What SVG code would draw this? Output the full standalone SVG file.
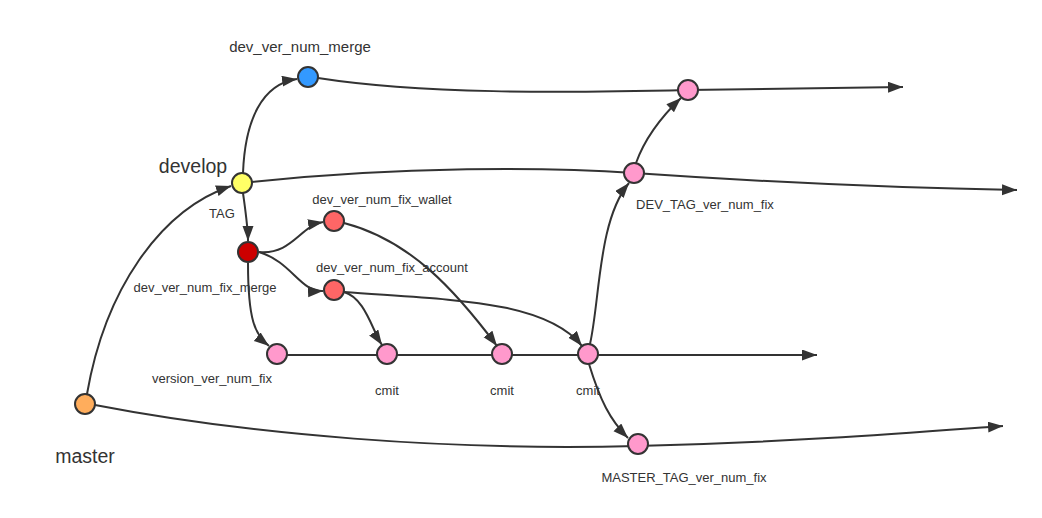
<svg xmlns="http://www.w3.org/2000/svg" width="1042" height="518" viewBox="0 0 1042 518">
<style>
.c{fill:none;stroke:#333;stroke-width:2;}
.a{marker-end:url(#arr);}
.n{stroke:#333;stroke-width:2;}
text{font-family:"Liberation Sans",Arial,sans-serif;fill:#333;font-size:13px;text-anchor:middle;}
.big{font-size:19.5px;}
.mid{font-size:15px;}
</style>
<defs>
<marker id="arr" markerUnits="userSpaceOnUse" markerWidth="16" markerHeight="12" refX="15" refY="5.5" orient="auto">
<path d="M0,0 L15,5.5 L0,11 z" fill="#333"/>
</marker>
</defs>
<rect width="1042" height="518" fill="#fff"/>
<g id="connectors">
<path class="c a" d="M318,78 C 420,94 560,93 688,90 L 903,87"/>
<path class="c a" d="M252,182 C 400,166 550,167 634,173 C 750,181 900,188 1017,190"/>
<path class="c a" d="M287,355 L 817,355"/>
<path class="c a" d="M95,405 C 250,435 450,451 637,446 C 800,442 920,432 1003,426"/>
<path class="c a" d="M87,394 C 105,290 160,210 231,186"/>
<path class="c a" d="M243,173 C 245,120 262,84 297,79"/>
<path class="c a" d="M243,193 C 246,215 248,228 248,241"/>
<path class="c a" d="M259,252 C 292,255 300,226 323,222"/>
<path class="c a" d="M259,252 C 292,262 300,292 323,291"/>
<path class="c a" d="M248,263 C 248,320 255,335 269,346"/>
<path class="c a" d="M344,292 C 365,298 372,330 382,345"/>
<path class="c a" d="M344,223 C 410,240 455,290 497,346"/>
<path class="c a" d="M344,292 C 450,300 545,300 582,346"/>
<path class="c a" d="M590,344 C 600,300 598,220 629,183"/>
<path class="c a" d="M636,163 C 645,138 660,118 681,98"/>
<path class="c a" d="M589,364 C 600,400 610,420 628,438"/>
</g>
<g id="master"><circle class="n" cx="85" cy="404" r="10" fill="#FFAD5C"/><text class="big" x="85" y="463">master</text></g>
<g id="develop"><circle class="n" cx="242" cy="183" r="10" fill="#FFFF66"/><text class="big" x="193" y="173">develop</text><text x="222" y="218">TAG</text></g>
<g id="dev_ver_num_merge"><circle class="n" cx="308" cy="77" r="10" fill="#3399FF"/><text class="mid" x="300" y="52">dev_ver_num_merge</text></g>
<g id="dev_ver_num_fix_merge"><circle class="n" cx="248" cy="252" r="10" fill="#CC0000"/><text x="205" y="292">dev_ver_num_fix_merge</text></g>
<g id="dev_ver_num_fix_wallet"><circle class="n" cx="334" cy="221" r="10" fill="#FF6666"/><text x="382" y="204">dev_ver_num_fix_wallet</text></g>
<g id="dev_ver_num_fix_account"><circle class="n" cx="334" cy="290" r="10" fill="#FF6666"/><text x="392" y="272">dev_ver_num_fix_account</text></g>
<g id="version_ver_num_fix"><circle class="n" cx="277" cy="354" r="10" fill="#FF99CC"/><text x="212" y="383">version_ver_num_fix</text></g>
<g id="cmit1"><circle class="n" cx="387" cy="354" r="10" fill="#FF99CC"/><text x="387" y="395">cmit</text></g>
<g id="cmit2"><circle class="n" cx="502" cy="354" r="10" fill="#FF99CC"/><text x="502" y="395">cmit</text></g>
<g id="cmit3"><circle class="n" cx="588" cy="354" r="10" fill="#FF99CC"/><text x="588" y="395">cmit</text></g>
<g id="DEV_TAG_ver_num_fix"><circle class="n" cx="634" cy="173" r="10" fill="#FF99CC"/><text x="705" y="209">DEV_TAG_ver_num_fix</text></g>
<g id="dev_top"><circle class="n" cx="688" cy="90" r="10" fill="#FF99CC"/></g>
<g id="MASTER_TAG_ver_num_fix"><circle class="n" cx="638" cy="444" r="10" fill="#FF99CC"/><text x="684" y="482">MASTER_TAG_ver_num_fix</text></g>
</svg>
